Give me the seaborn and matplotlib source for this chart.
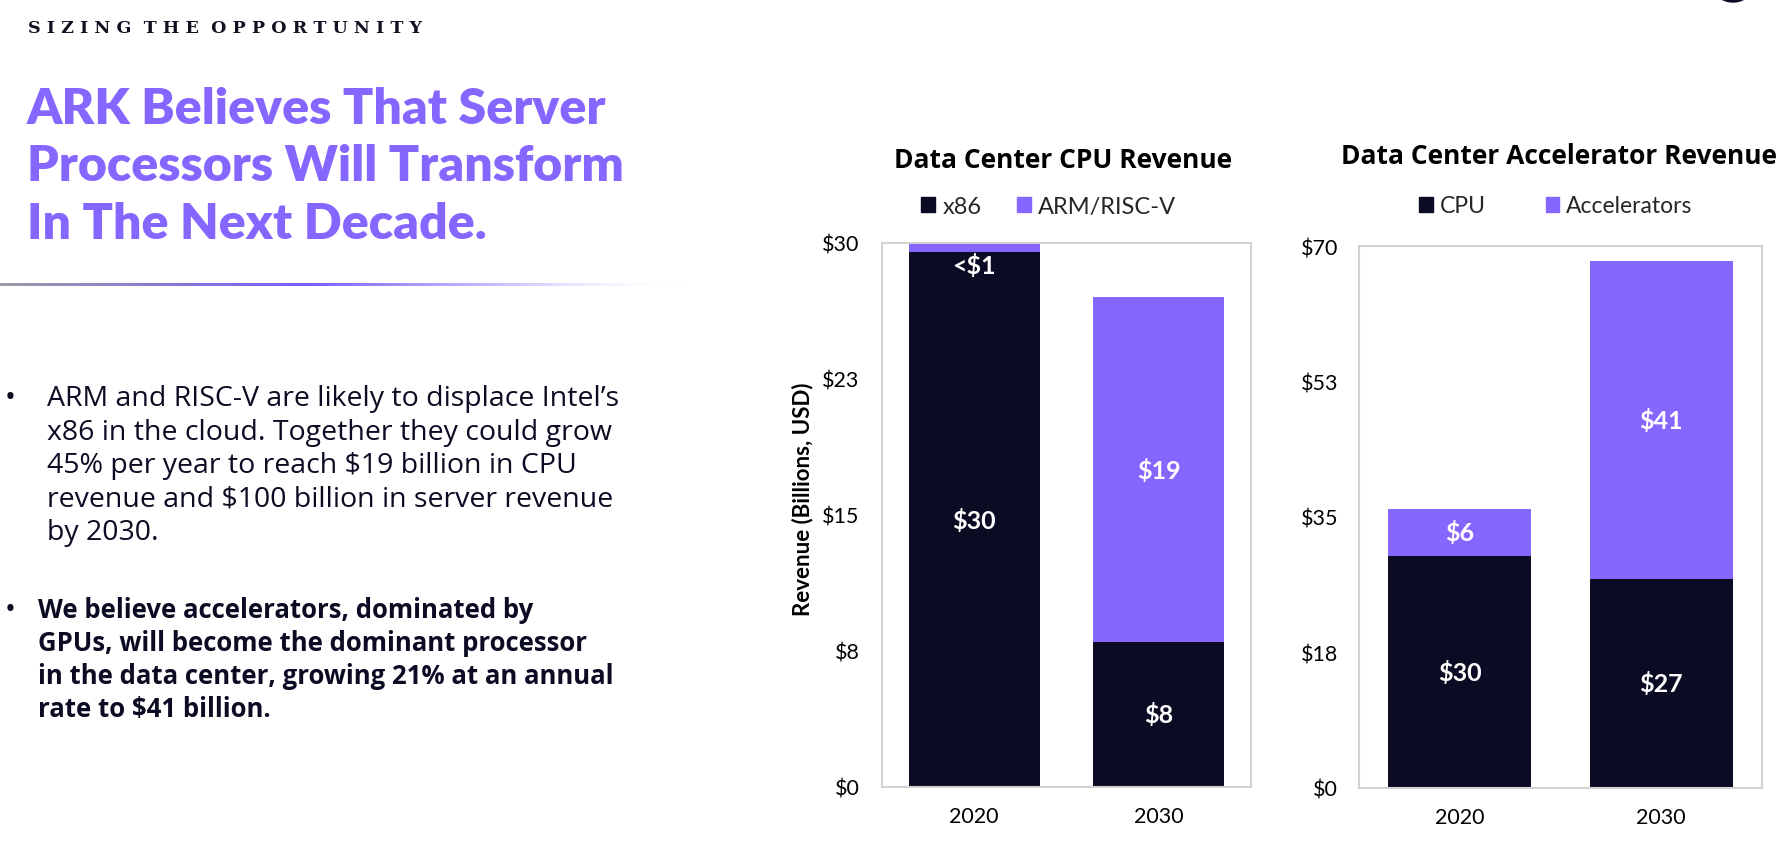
import numpy as np
import pandas as pd
import matplotlib
matplotlib.use("Agg")
import matplotlib.pyplot as plt
import seaborn as sns
from matplotlib.patches import Patch, Ellipse
from matplotlib.colors import LinearSegmentedColormap

# ---------------- data ----------------
years = ["2020", "2030"]
cpu_x86 = [29.5, 8.0]
cpu_arm = [0.5, 19.0]
cpu_x86_labels = ["$30", "$8"]
cpu_arm_labels = ["<$1", "$19"]
cpu_ticks = [0, 7.5, 15, 22.5, 30]
cpu_tick_labels = ["$0", "$8", "$15", "$23", "$30"]

acc_cpu = [30.0, 27.0]
acc_acc = [6.0, 41.0]
acc_cpu_labels = ["$30", "$27"]
acc_acc_labels = ["$6", "$41"]
acc_ticks = [0, 17.5, 35, 52.5, 70]
acc_tick_labels = ["$0", "$18", "$35", "$53", "$70"]

header = "SIZING THE OPPORTUNITY"
title_lines = ["ARK Believes That Server", "Processors Will Transform", "In The Next Decade."]
bullet1 = ["ARM and RISC-V are likely to displace Intel\u2019s",
           "x86 in the cloud. Together they could grow",
           "45% per year to reach $19 billion in CPU",
           "revenue and $100 billion in server revenue",
           "by 2030."]
bullet2 = ["We believe accelerators, dominated by",
           "GPUs, will become the dominant processor",
           "in the data center, growing 21% at an annual",
           "rate to $41 billion."]

NAVY = "#0b0b23"
PURPLE = "#8566ff"
BODY = ["Open Sans", "DejaVu Sans"]

# ---------------- figure ----------------
sns.set_theme(style="white")
plt.rcParams["font.family"] = ["Lato", "DejaVu Sans"]
W, H = 1786, 854
fig = plt.figure(figsize=(W / 100, H / 100), dpi=100)
fig.patch.set_facecolor("white")


def ftext(x, y, s, **kw):
    return fig.text(x / W, 1 - y / H, s, **kw)


# header
ftext(28, 33, "  ".join(" ".join(w) for w in header.split()), fontsize=12.6,
      fontweight="bold", family=["DejaVu Serif"], color="#111122", va="baseline")

# big title
for i, line in enumerate(title_lines):
    ftext(27, 124 + i * 57.5, line, fontsize=36, fontweight="heavy", color=PURPLE,
          va="baseline")

# gradient line
gax = fig.add_axes([0, 1 - 287 / H, 690 / W, 3 / H])
cmap = LinearSegmentedColormap.from_list(
    "g", [(0.0, (0.62, 0.60, 0.66, 1.0)), (0.45, (0.48, 0.36, 1.0, 1.0)),
          (0.75, (0.62, 0.55, 1.0, 0.5)), (1.0, (1.0, 1.0, 1.0, 0.0))])
gax.imshow(np.linspace(0, 1, 400)[None, :], aspect="auto", cmap=cmap)
gax.axis("off")

# bullets
for i, line in enumerate(bullet1):
    ftext(47, 406.5 + i * 33.5, line, fontsize=20.5, color="#0b0b23", va="baseline",
          family=BODY)
ftext(5, 406.5, "\u2022", fontsize=21, color="#0b0b23", va="baseline", family=BODY)
for i, line in enumerate(bullet2):
    ftext(38, 618 + i * 33, line, fontsize=18.5, fontweight="bold", color="#0b0b23",
          va="baseline", family=BODY)
ftext(5, 618, "\u2022", fontsize=21, color="#0b0b23", va="baseline", family=BODY)

# logo fragment top-right
fig.patches.append(Ellipse((1733 / W, 1 + 6 / H), 30 / W, 18 / H,
                           transform=fig.transFigure, color=NAVY))


def stacked(ax, bottom_vals, top_vals, bottom_labels, top_labels, ticks, tick_labels,
            names, ymax, ytick_pad):
    totals = [b + t for b, t in zip(bottom_vals, top_vals)]
    df_tot = pd.DataFrame({"year": years, "value": totals})
    df_bot = pd.DataFrame({"year": years, "value": bottom_vals})
    sns.barplot(data=df_tot, x="year", y="value", color=PURPLE, saturation=1,
                width=0.71, ax=ax, errorbar=None, linewidth=0)
    sns.barplot(data=df_bot, x="year", y="value", color=NAVY, saturation=1,
                width=0.71, ax=ax, errorbar=None, linewidth=0)
    ax.set_xlim(-0.5, 1.5)
    ax.set_ylim(0, ymax)
    ax.set_yticks(ticks)
    ax.set_yticklabels(tick_labels)
    ax.set_xlabel("")
    ax.set_ylabel("")
    ax.tick_params(axis="both", length=0, labelsize=15.5, colors="black")
    ax.tick_params(axis="y", pad=ytick_pad)
    ax.tick_params(axis="x", pad=14)
    for sp in ax.spines.values():
        sp.set_visible(True)
        sp.set_color("#d2d2d2")
        sp.set_linewidth(1.5)
    for i in range(len(years)):
        b, t = bottom_vals[i], top_vals[i]
        ax.text(i, b / 2, bottom_labels[i], ha="center", va="center", color="white",
                fontsize=18, fontweight="bold")
        if t < 2:
            ax.annotate(top_labels[i], (i, b), xytext=(0, -1), textcoords="offset points",
                        ha="center", va="top", color="white", fontsize=18,
                        fontweight="bold")
        else:
            ax.text(i, b + t / 2, top_labels[i], ha="center", va="center",
                    color="white", fontsize=18, fontweight="bold")
    handles = [Patch(color=NAVY, label=names[0]), Patch(color=PURPLE, label=names[1])]
    return handles


ax1 = fig.add_axes([882 / W, 1 - 788 / H, 369 / W, 544 / H])
h1 = stacked(ax1, cpu_x86, cpu_arm, cpu_x86_labels, cpu_arm_labels, cpu_ticks,
             cpu_tick_labels, ["x86", "ARM/RISC-V"], 30, 16)
ax1.set_ylabel("Revenue (Billions, USD)", fontsize=16, fontweight="bold", color="black")
ax1.yaxis.set_label_coords(-0.187, 0.531)
ax1.legend(handles=h1, ncol=2, loc="center", bbox_to_anchor=(0.452, 1.068),
           frameon=False, fontsize=17, handlelength=0.6, handleheight=0.6,
           handletextpad=0.3, columnspacing=1.5, borderaxespad=0)

ax2 = fig.add_axes([1359 / W, 1 - 789 / H, 403 / W, 542 / H])
h2 = stacked(ax2, acc_cpu, acc_acc, acc_cpu_labels, acc_acc_labels, acc_ticks,
             acc_tick_labels, ["CPU", "Accelerators"], 70, 15)
ax2.legend(handles=h2, ncol=2, loc="center", bbox_to_anchor=(0.489, 1.074),
           frameon=False, fontsize=16.5, handlelength=0.6, handleheight=0.6,
           handletextpad=0.3, columnspacing=2.6, borderaxespad=0)

ftext(1063, 168, "Data Center CPU Revenue", fontsize=19, fontweight="bold",
      ha="center", va="baseline", color="black", family=BODY)
ftext(1559, 164, "Data Center Accelerator Revenue", fontsize=19, fontweight="bold",
      ha="center", va="baseline", color="black", family=BODY)

fig.savefig("out.png", dpi=100, facecolor="white")
